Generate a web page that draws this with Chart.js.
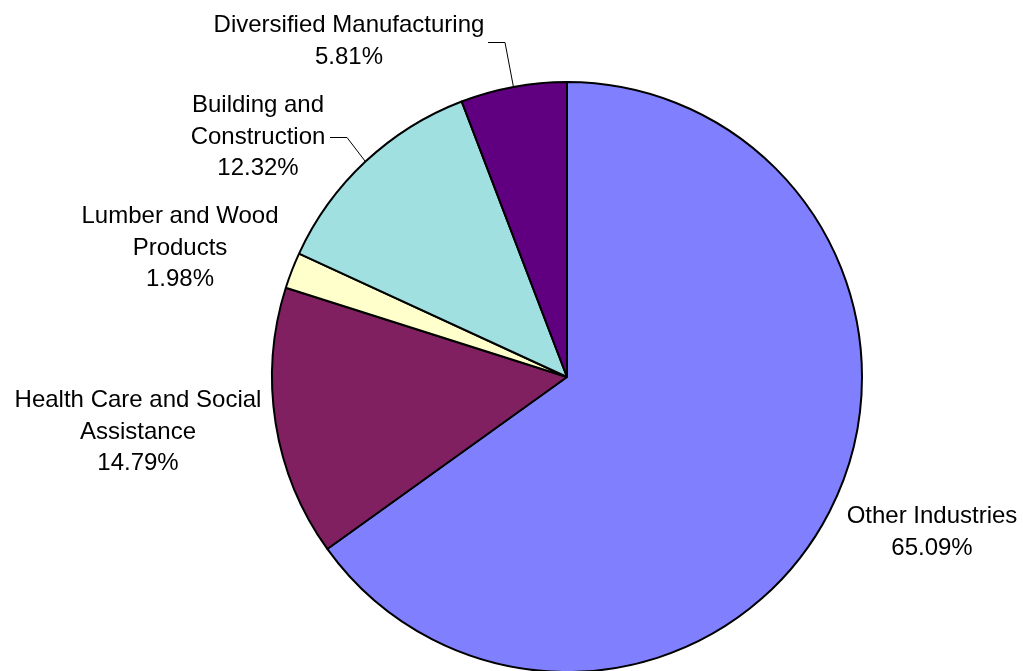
<!DOCTYPE html>
<html>
<head>
<meta charset="utf-8">
<script src="https://cdn.jsdelivr.net/npm/chart.js@4/dist/chart.umd.min.js"></script>
<style>
  html, body { margin: 0; padding: 0; background: #ffffff; overflow: hidden; }
  #wrap { position: relative; width: 1023px; height: 671px; }
</style>
</head>
<body>
<div id="wrap"><canvas id="c" width="1023" height="671"></canvas></div>
<script>
const categories = ["Other Industries", "Health Care and Social Assistance", "Lumber and Wood Products", "Building and Construction", "Diversified Manufacturing"];
const shares = [65.09, 14.79, 1.98, 12.32, 5.81];
const labelLines = [
  ["Other Industries", "65.09%"],
  ["Health Care and Social", "Assistance", "14.79%"],
  ["Lumber and Wood", "Products", "1.98%"],
  ["Building and", "Construction", "12.32%"],
  ["Diversified Manufacturing", "5.81%"]
];
const sliceColors = ["#8080FF", "#802060", "#FFFFCC", "#A0E0E0", "#600080"];

// label placement (text anchor: center x, first baseline y) and optional leader elbow
const labelLayout = [
  { x: 932, y: 523 },
  { x: 138, y: 407 },
  { x: 180, y: 223 },
  { x: 258, y: 112, leader: { x1: 330, x2: 347, y: 137 } },
  { x: 349, y: 32,  leader: { x1: 488, x2: 505, y: 42 } }
];

const labelPlugin = {
  id: 'pieLabels',
  afterDatasetsDraw(chart) {
    const ctx = chart.ctx;
    const meta = chart.getDatasetMeta(0);
    ctx.save();
    ctx.font = '24px "Liberation Sans", Arial, sans-serif';
    ctx.fillStyle = '#000000';
    ctx.textAlign = 'center';
    ctx.textBaseline = 'alphabetic';
    labelLines.forEach((lines, i) => {
      const lay = labelLayout[i];
      lines.forEach((t, k) => ctx.fillText(t, lay.x, lay.y + k * 31.5));
      if (lay.leader) {
        const arc = meta.data[i];
        const mid = (arc.startAngle + arc.endAngle) / 2;
        const ex = arc.x + Math.cos(mid) * arc.outerRadius;
        const ey = arc.y + Math.sin(mid) * arc.outerRadius;
        ctx.beginPath();
        ctx.strokeStyle = '#000000';
        ctx.lineWidth = 1;
        ctx.moveTo(lay.leader.x1, lay.leader.y + 0.5);
        ctx.lineTo(lay.leader.x2, lay.leader.y + 0.5);
        ctx.lineTo(ex, ey);
        ctx.stroke();
      }
    });
    ctx.restore();
  }
};

new Chart(document.getElementById('c'), {
  type: 'pie',
  data: {
    labels: categories,
    datasets: [{
      data: shares,
      backgroundColor: sliceColors,
      borderColor: '#000000',
      borderWidth: 2,
      radius: 295
    }]
  },
  options: {
    responsive: false,
    animation: false,
    events: [],
    layout: { padding: { left: 111, top: 83, right: 0, bottom: 0 } },
    plugins: { legend: { display: false }, tooltip: { enabled: false } }
  },
  plugins: [labelPlugin]
});
</script>
</body>
</html>
